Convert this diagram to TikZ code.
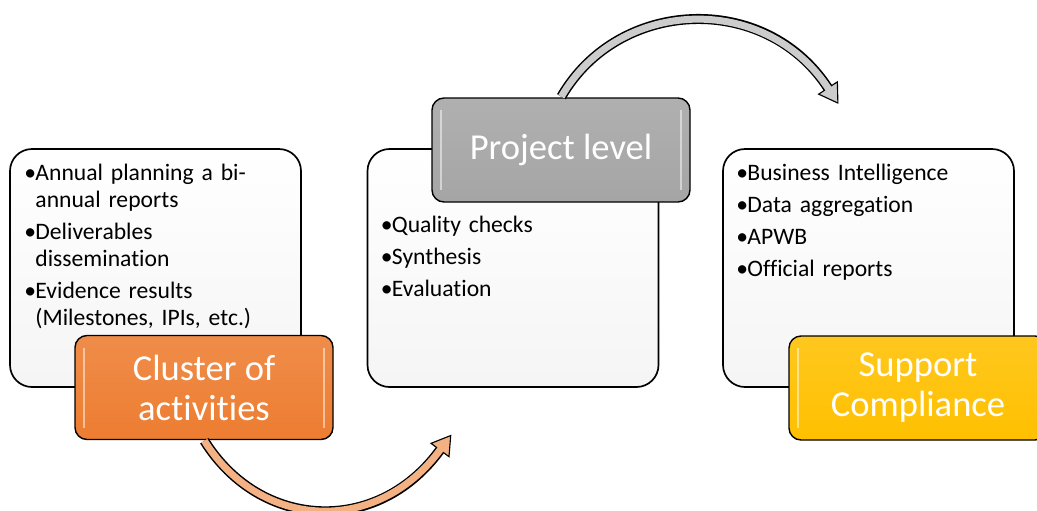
\documentclass[tikz,border=0pt]{standalone}
\usepackage{fontspec}
\setmainfont{Carlito}[Ligatures=NoCommon]
\usetikzlibrary{positioning,calc}
\definecolor{clorange}{RGB}{237,125,49}
\definecolor{cllight}{RGB}{244,177,131}
\definecolor{prgrey}{RGB}{165,165,165}
\definecolor{prlight}{RGB}{204,204,204}
\definecolor{scyellow}{RGB}{255,192,0}
\newcommand{\itm}[1]{\par\hangindent=0.275cm\hangafter=1\noindent
  \makebox[0.275cm][l]{\textbullet}#1\par}
\begin{document}
\begin{tikzpicture}
  [panel/.style={rectangle,rounded corners=0.55cm,draw=black,line width=1.2pt,
                 top color=white,bottom color=black!4,
                 minimum width=7.275cm,minimum height=5.95cm},
   tagbox/.style={rectangle,rounded corners=0.3cm,draw=black,line width=1pt,
                  top color=#1!88!white,bottom color=#1,
                  minimum width=6.45cm,minimum height=2.6cm,inner sep=0pt,
                  text=white,align=center,font=\fontsize{26}{28.5}\selectfont,
                  path picture={
                    \draw[white,opacity=0.5,line width=1.3pt]
                      ([xshift=0.22cm,yshift=-0.3cm]path picture bounding box.north west)
                      -- ([xshift=0.22cm,yshift=0.3cm]path picture bounding box.south west);
                    \draw[white,opacity=0.5,line width=1.3pt]
                      ([xshift=-0.22cm,yshift=-0.3cm]path picture bounding box.north east)
                      -- ([xshift=-0.22cm,yshift=0.3cm]path picture bounding box.south east);}},
   items/.style={inner sep=0pt,text width=7cm,font=\fontsize{16.8}{19.2}\selectfont,
                 execute at begin node={\raggedright\setlength{\parskip}{3.5pt}}},
   bandline/.style={line width=0.25cm,draw=black},
   bandhead/.style={draw=black,line width=0.8pt,line join=miter}]
  \useasboundingbox (0,0) rectangle (25.925,-12.75);
  \node[panel] (box1) at (3.8875,-6.7) {};
  \node[panel] (box2) at (12.825,-6.7) {};
  \node[panel] (box3) at (21.7125,-6.7) {};
  \node[items,below right=0cm and 0.375cm of box1.north west] (list1)
    {\itm{Annual planning a bi-\newline annual reports}
     \itm{Deliverables\newline dissemination}
     \itm{Evidence results\newline (Milestones, IPIs, etc.)}};
  \node[items,below right=1.3cm and 0.35cm of box2.north west] (list2)
    {\itm{Quality checks}\itm{Synthesis}\itm{Evaluation}};
  \node[items,below right=0cm and 0.35cm of box3.north west] (list3)
    {\itm{Business Intelligence}\itm{Data aggregation}\itm{APWB}\itm{Official reports}};
  \node[tagbox=clorange] (tag1) at (5.1,-9.6875) {Cluster of\\activities};
  \node[tagbox=prgrey] (tag2) at (14.025,-3.75) {Project level};
  \node[tagbox=scyellow] (tag3) at (22.95,-9.7) {Support\\Compliance};
  % cluster -> project
  \coordinate (head1) at (11.0,-11.25);
  \coordinate (tip1) at ($(head1)+(53.5:0.45cm)$);
  \draw[bandline,shorten <=0.5pt] (tag1.south) to[out=-58,in=234,looseness=1.15] (head1);
  \filldraw[bandhead,fill=cllight] ($(head1)!0.28cm!90:(tip1)$) -- (tip1)
    -- ($(head1)!0.28cm!-90:(tip1)$) -- cycle;
  \draw[line width=0.175cm,cllight,shorten <=0.5pt,shorten >=-1pt]
    (tag1.south) to[out=-58,in=234,looseness=1.15] (head1);
  % project -> compliance
  \coordinate (head2) at (20.7,-2.2);
  \coordinate (tip2) at ($(head2)+(-56.7:0.45cm)$);
  \draw[bandline,shorten <=0.5pt] (tag2.north) to[out=60,in=123,looseness=1.1] (head2);
  \filldraw[bandhead,fill=prlight] ($(head2)!0.28cm!90:(tip2)$) -- (tip2)
    -- ($(head2)!0.28cm!-90:(tip2)$) -- cycle;
  \draw[line width=0.175cm,prlight,shorten <=0.5pt,shorten >=-1pt]
    (tag2.north) to[out=60,in=123,looseness=1.1] (head2);
\end{tikzpicture}
\end{document}
